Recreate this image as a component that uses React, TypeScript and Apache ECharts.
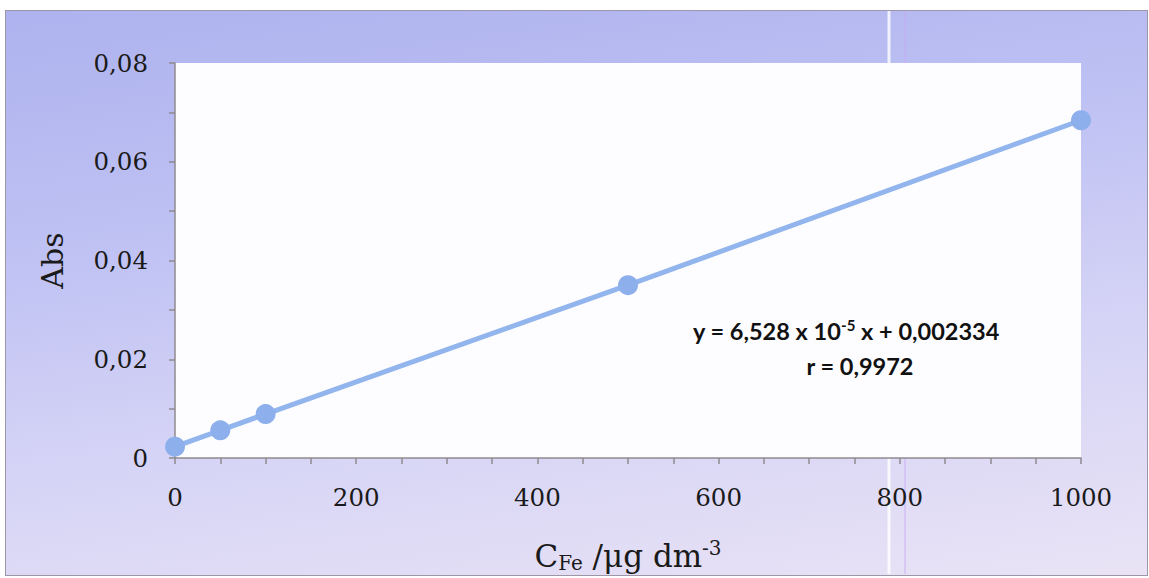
import React, { useEffect, useRef } from "react";
import * as echarts from "echarts";

const concentrations = [0, 50, 100, 500, 1000];
const absorbances = [0.0023, 0.0056, 0.0089, 0.035, 0.0684];
const xTicks = [0, 200, 400, 600, 800, 1000];
const yTicks = [0, 0.02, 0.04, 0.06, 0.08];
const equationLine = "y = 6,528 x 10{sup|-5} x + 0,002334";
const correlationLine = "r = 0,9972";

export default function App() {
  const ref = useRef<HTMLDivElement>(null);
  useEffect(() => {
    if (!ref.current) return;
    const chart = echarts.init(ref.current, undefined, { renderer: "svg" });
    const serif = "DejaVu Serif";
    chart.setOption({
      animation: false,
      backgroundColor: "transparent",
      grid: {
        left: 175,
        right: 68,
        top: 63,
        bottom: 120,
        show: true,
        backgroundColor: "#fdfdff",
        borderWidth: 0,
      },
      xAxis: {
        type: "value",
        min: xTicks[0],
        max: xTicks[xTicks.length - 1],
        interval: 200,
        name: "C{sub|Fe} /μg dm{sup|-3}",
        nameLocation: "middle",
        nameGap: 80,
        nameTextStyle: {
          fontFamily: serif,
          fontSize: 31,
          color: "#1a1a1a",
          rich: {
            sub: { fontFamily: serif, fontSize: 20, color: "#1a1a1a", verticalAlign: "bottom", padding: [15, 0, 0, 0] },
            sup: { fontFamily: serif, fontSize: 20, color: "#1a1a1a", verticalAlign: "top", padding: [0, 0, 13, 0] },
          },
        },
        axisLine: { show: true, lineStyle: { color: "#8f8a8f", width: 1.5 } },
        axisTick: { show: true, length: 6, lineStyle: { color: "#8f8a8f", width: 1.5 } },
        minorTick: { show: true, splitNumber: 4, length: 6, lineStyle: { color: "#8f8a8f", width: 1.5 } },
        splitLine: { show: false },
        axisLabel: {
          margin: 27,
          fontFamily: serif,
          fontSize: 24.5,
          color: "#1a1a1a",
          formatter: (v: number) => String(v),
        },
      },
      yAxis: {
        type: "value",
        min: yTicks[0],
        max: yTicks[yTicks.length - 1],
        interval: 0.02,
        name: "Abs",
        nameLocation: "middle",
        nameGap: 108,
        nameTextStyle: { fontFamily: serif, fontSize: 30, color: "#1a1a1a" },
        axisLine: { show: true, lineStyle: { color: "#8f8a8f", width: 1.5 } },
        axisTick: { show: true, length: 6, lineStyle: { color: "#8f8a8f", width: 1.5 } },
        minorTick: { show: true, splitNumber: 2, length: 6, lineStyle: { color: "#8f8a8f", width: 1.5 } },
        splitLine: { show: false },
        axisLabel: {
          margin: 27,
          fontFamily: serif,
          fontSize: 24.5,
          color: "#1a1a1a",
          formatter: (v: number) => (v === 0 ? "0" : v.toFixed(2).replace(".", ",")),
        },
      },
      series: [
        {
          type: "line",
          data: concentrations.map((c, i) => [c, absorbances[i]]),
          symbol: "circle",
          symbolSize: 20,
          clip: false,
          itemStyle: { color: "#8db0ec" },
          lineStyle: { color: "#92b5ee", width: 5 },
        },
      ],
      graphic: [
        {
          type: "line",
          silent: true,
          z: -1,
          shape: { x1: 889, y1: 11, x2: 889, y2: 574 },
          style: { stroke: "rgba(255,255,255,0.8)", lineWidth: 3 },
        },
        {
          type: "line",
          silent: true,
          z: -1,
          shape: { x1: 905, y1: 11, x2: 905, y2: 574 },
          style: { stroke: "rgba(200,170,245,0.45)", lineWidth: 2 },
        },
        {
          type: "text",
          x: 846,
          y: 331,
          style: {
            text: equationLine,
            fontFamily: "Lato",
            fontWeight: "bold",
            fontSize: 23.5,
            fill: "#111",
            align: "center",
            verticalAlign: "middle",
            rich: {
              sup: { fontFamily: "Lato", fontWeight: "bold", fontSize: 15, fill: "#111", padding: [0, 0, 13, 0] },
            },
          },
        },
        {
          type: "text",
          x: 860,
          y: 366,
          style: {
            text: correlationLine,
            fontFamily: "Lato",
            fontWeight: "bold",
            fontSize: 23.5,
            fill: "#111",
            align: "center",
            verticalAlign: "middle",
          },
        },
      ],
    });
    return () => chart.dispose();
  }, []);

  return (
    <div style={{ position: "absolute", left: 0, top: 0, width: 1149, height: 578, background: "#fff" }}>
      <div
        style={{
          position: "absolute",
          left: 5,
          top: 10,
          width: 1141,
          height: 564,
          border: "1.5px solid #9d96a6",
          background: "linear-gradient(172deg, #aeb2ee 0%, #bfc2f3 35%, #d6d4f6 65%, #e9e3f5 100%)",
        }}
      />
      <div ref={ref} style={{ position: "absolute", left: 0, top: 0, width: 1149, height: 578 }} />
    </div>
  );
}
